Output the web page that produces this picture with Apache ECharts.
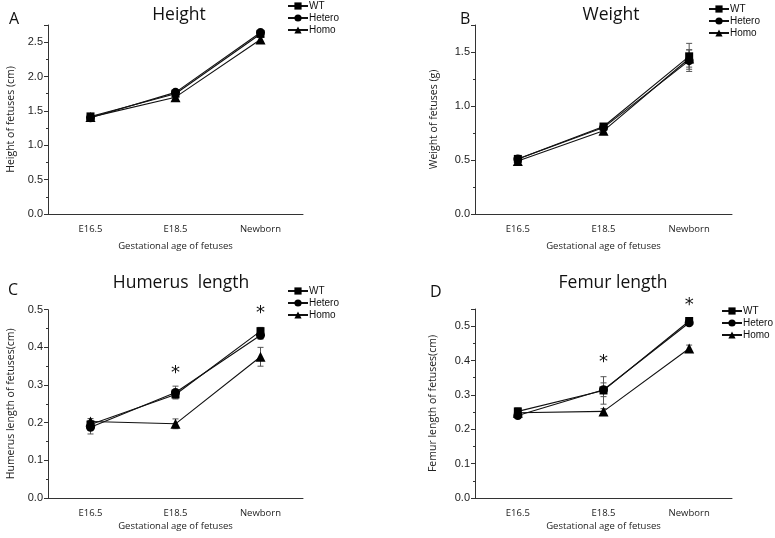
<!DOCTYPE html>
<html>
<head>
<meta charset="utf-8">
<script src="https://cdn.jsdelivr.net/npm/echarts@6/dist/echarts.min.js"></script>
<style>html,body{margin:0;padding:0;background:#fff;}#c{width:775px;height:538px;}</style>
</head>
<body>
<div id="c"></div>
<script>
// ---- data ----
const categories = ['E16.5', 'E18.5', 'Newborn'];
const seriesNames = ['WT', 'Hetero', 'Homo'];

const heightWT = [1.42, 1.75, 2.62];
const heightHetero = [1.40, 1.77, 2.64];
const heightHomo = [1.41, 1.70, 2.54];
const heightErrWT = [0.03, 0.03, 0.03];
const heightErrHetero = [0.03, 0.03, 0.03];
const heightErrHomo = [0.03, 0.03, 0.04];

const weightWT = [0.51, 0.81, 1.46];
const weightHetero = [0.51, 0.80, 1.42];
const weightHomo = [0.49, 0.77, 1.44];
const weightErrWT = [0.02, 0.02, 0.12];
const weightErrHetero = [0.02, 0.02, 0.10];
const weightErrHomo = [0.02, 0.03, 0.08];

const humerusWT = [0.195, 0.275, 0.443];
const humerusHetero = [0.188, 0.280, 0.432];
const humerusHomo = [0.203, 0.197, 0.375];
const humerusErrWT = [0.010, 0.010, 0.010];
const humerusErrHetero = [0.018, 0.017, 0.010];
const humerusErrHomo = [0.008, 0.013, 0.025];
const humerusStars = [null, 0.336, 0.497];

const femurWT = [0.252, 0.313, 0.515];
const femurHetero = [0.240, 0.315, 0.510];
const femurHomo = [0.248, 0.252, 0.435];
const femurErrWT = [0.010, 0.040, 0.008];
const femurErrHetero = [0.008, 0.020, 0.008];
const femurErrHomo = [0.008, 0.008, 0.010];
const femurStars = [null, 0.400, 0.567];

// ---- chart ----
const symbols = { WT: 'rect', Hetero: 'circle', Homo: 'triangle' };
const symbolSizes = { WT: 8, Hetero: 9, Homo: 10 };
const axisColor = '#333';
const numFont = 'Liberation Sans';
const txtFont = 'Open Sans';

const panels = [
  { title: 'Height', letter: 'A', yName: 'Height of fetuses (cm)', max: 2.75, interval: 0.5,
    vals: [heightWT, heightHetero, heightHomo], errs: [heightErrWT, heightErrHetero, heightErrHomo], stars: null },
  { title: 'Weight', letter: 'B', yName: 'Weight of fetuses (g)', max: 1.75, interval: 0.5,
    vals: [weightWT, weightHetero, weightHomo], errs: [weightErrWT, weightErrHetero, weightErrHomo], stars: null },
  { title: 'Humerus  length', letter: 'C', yName: 'Humerus length of fetuses(cm)', max: 0.5, interval: 0.1,
    vals: [humerusWT, humerusHetero, humerusHomo], errs: [humerusErrWT, humerusErrHetero, humerusErrHomo], stars: humerusStars },
  { title: 'Femur length', letter: 'D', yName: 'Femur length of fetuses(cm)', max: 0.55, interval: 0.1,
    vals: [femurWT, femurHetero, femurHomo], errs: [femurErrWT, femurErrHetero, femurErrHomo], stars: femurStars }
];

const layout = [
  { grid: { left: 48, top: 25, width: 255, height: 189 }, titleX: 174, titleY: 1, letterX: 4, letterY: 6,
    legend: { left: 287, top: 1 }, yNameGap: 31, xNameGap: 27 },
  { grid: { left: 475, top: 25, width: 257, height: 189 }, titleX: 606, titleY: 1, letterX: 455, letterY: 6,
    legend: { left: 708, top: 4 }, yNameGap: 35, xNameGap: 27 },
  { grid: { left: 48, top: 309.7, width: 255, height: 188.3 }, titleX: 176, titleY: 269, letterX: 3, letterY: 277,
    legend: { left: 287, top: 286 }, yNameGap: 31, xNameGap: 23 },
  { grid: { left: 475, top: 309, width: 257, height: 189 }, titleX: 608, titleY: 269, letterX: 425, letterY: 279,
    legend: { left: 721, top: 306 }, yNameGap: 36, xNameGap: 23 }
];

const option = {
  backgroundColor: '#fff',
  animation: false,
  title: [],
  legend: [],
  grid: [],
  xAxis: [],
  yAxis: [],
  series: []
};

panels.forEach((p, i) => {
  const L = layout[i];
  option.grid.push(Object.assign({ containLabel: false }, L.grid));
  option.title.push({
    text: p.title, left: L.titleX, top: L.titleY, textAlign: 'center',
    textStyle: { fontFamily: txtFont, fontSize: 17.5, fontWeight: 500, color: '#111' }
  });
  option.title.push({
    text: p.letter, left: L.letterX, top: L.letterY,
    textStyle: { fontFamily: txtFont, fontSize: 16, fontWeight: 'normal', color: '#111' }
  });
  option.xAxis.push({
    type: 'category', gridIndex: i, data: categories, boundaryGap: true,
    name: 'Gestational age of fetuses', nameLocation: 'middle', nameGap: L.xNameGap,
    nameTextStyle: { fontFamily: txtFont, fontSize: 9.5, color: '#222' },
    axisLine: { lineStyle: { color: axisColor, width: 1 } },
    axisTick: { alignWithLabel: true, length: 3, lineStyle: { color: axisColor } },
    axisLabel: { fontFamily: txtFont, fontSize: 9.5, color: '#222', margin: 10 },
    splitLine: { show: false }
  });
  option.yAxis.push({
    type: 'value', gridIndex: i, min: 0, max: p.max, interval: p.interval,
    name: p.yName, nameLocation: 'middle', nameGap: L.yNameGap,
    nameTextStyle: { fontFamily: txtFont, fontSize: 10.5, color: '#222' },
    axisLine: { show: true, lineStyle: { color: axisColor, width: 1 } },
    axisTick: { show: true, length: 4, lineStyle: { color: axisColor } },
    minorTick: { show: true, splitNumber: 2, length: 2, lineStyle: { color: axisColor } },
    axisLabel: { fontFamily: numFont, fontSize: 11, color: '#222', margin: 5,
      showMaxLabel: Math.abs(p.max / p.interval - Math.round(p.max / p.interval)) < 1e-9,
      formatter: v => v.toFixed(1) },
    splitLine: { show: false }
  });
  option.legend.push({
    left: L.legend.left, top: L.legend.top, orient: 'vertical',
    itemWidth: 20, itemHeight: 9, itemGap: 2, padding: 0,
    data: seriesNames,
    textStyle: { fontFamily: numFont, fontSize: 10, color: '#111', padding: [0, 0, 0, -4] },
    selectedMode: false
  });

  // error bars
  seriesNames.forEach((n, k) => {
    const ed = p.vals[k].map((v, j) => [j, v - p.errs[k][j], v + p.errs[k][j]]);
    option.series.push({
      type: 'custom', xAxisIndex: i, yAxisIndex: i, z: 1, silent: true,
      data: ed,
      renderItem: (params, api) => {
        const lo = api.coord([api.value(0), api.value(1)]);
        const hi = api.coord([api.value(0), api.value(2)]);
        const w = 3;
        const st = { stroke: '#555', lineWidth: 1 };
        return { type: 'group', children: [
          { type: 'line', shape: { x1: lo[0], y1: lo[1], x2: hi[0], y2: hi[1] }, style: st },
          { type: 'line', shape: { x1: lo[0] - w, y1: lo[1], x2: lo[0] + w, y2: lo[1] }, style: st },
          { type: 'line', shape: { x1: hi[0] - w, y1: hi[1], x2: hi[0] + w, y2: hi[1] }, style: st }
        ] };
      }
    });
  });

  // lines
  seriesNames.forEach((n, k) => {
    option.series.push({
      name: n, type: 'line', xAxisIndex: i, yAxisIndex: i, z: 3,
      data: p.vals[k], symbol: symbols[n], symbolSize: symbolSizes[n],
      lineStyle: { color: '#111', width: 1.1 }, itemStyle: { color: '#000' },
      emphasis: { disabled: true }
    });
  });

  // significance stars
  if (p.stars) {
    option.series.push({
      type: 'custom', xAxisIndex: i, yAxisIndex: i, z: 4, silent: true, clip: false,
      data: p.stars.map((v, j) => v == null ? null : [j, v]).filter(d => d),
      renderItem: (params, api) => {
        const pt = api.coord([api.value(0), api.value(1)]);
        return { type: 'text', x: pt[0], y: pt[1] + 2,
          style: { text: '*', fontFamily: 'DejaVu Sans', fontSize: 18, fill: '#111', align: 'center', verticalAlign: 'middle' } };
      }
    });
  }
});

const chart = echarts.init(document.getElementById('c'), null, { renderer: 'canvas' });
chart.setOption(option);
</script>
</body>
</html>
